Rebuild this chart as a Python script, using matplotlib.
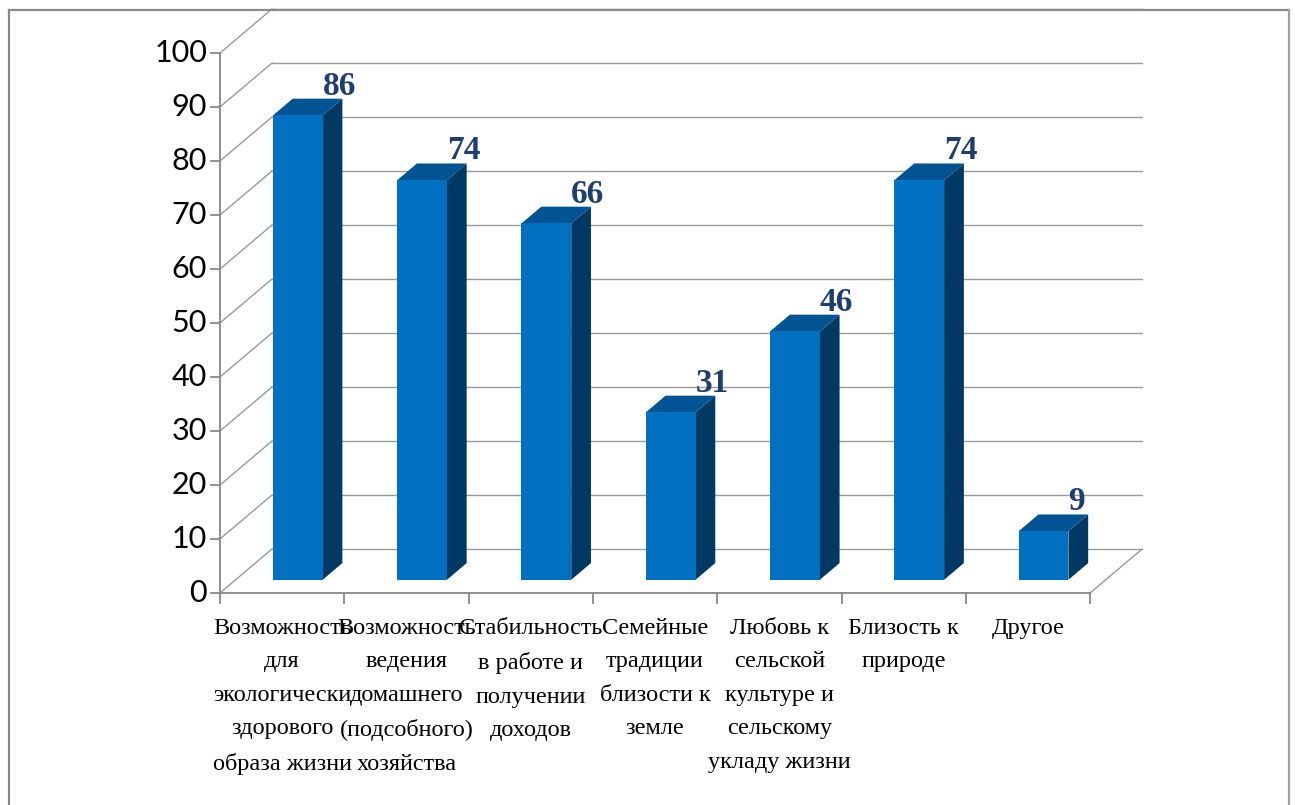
import matplotlib
matplotlib.use("Agg")
import matplotlib.pyplot as plt
from matplotlib.patches import Polygon
from matplotlib.lines import Line2D

# ---- data -------------------------------------------------------------
categories = [
    "Возможность\nдля\nэкологически\nздорового\nобраза жизни",
    "Возможность\nведения\nдомашнего\n(подсобного)\nхозяйства",
    "Стабильность\nв работе и\nполучении\nдоходов",
    "Семейные\nтрадиции\nблизости к\nземле",
    "Любовь к\nсельской\nкультуре и\nсельскому\nукладу жизни",
    "Близость к\nприроде",
    "Другое",
]
values = [86, 74, 66, 31, 46, 74, 9]
y_ticks = list(range(0, 101, 10))

# ---- figure / layout ----------------------------------------------------
W, H, DPI = 1295, 805, 100
fig = plt.figure(figsize=(W / DPI, H / DPI), dpi=DPI)
fig.patch.set_facecolor("white")

x0_px, y0_px = 220, 593      # front-left corner of the floor
slot_px = 124.3              # width of one category slot
unit_px = 5.4                # pixels per value unit
depth_px = (52, 44)          # oblique depth of the plot box

ax = fig.add_axes([0, 0, 1, 1])
ax.set_xlim(-x0_px / slot_px, (W - x0_px) / slot_px)
ax.set_ylim((y0_px - H) / unit_px, y0_px / unit_px)
ax.axis("off")

ddx = depth_px[0] / slot_px
ddy = depth_px[1] / unit_px
n = len(values)
ymax = y_ticks[-1]

grid_c = "#9a9a9a"
axis_c = "#888888"
lw = 1.0

# walls: back gridlines and side-wall diagonals
for v in y_ticks:
    ax.add_line(Line2D([ddx, n + ddx], [v + ddy, v + ddy], color=grid_c, lw=lw, zorder=1))
    ax.add_line(Line2D([0, ddx], [v, v + ddy], color=grid_c, lw=lw, zorder=1))
# floor right edge
ax.add_line(Line2D([n, n + ddx], [0, ddy], color=grid_c, lw=lw, zorder=1))

# front axes
ax.add_line(Line2D([0, n], [0, 0], color=axis_c, lw=1.3, zorder=2))
ax.add_line(Line2D([0, 0], [0, ymax], color=axis_c, lw=1.3, zorder=2))
tick_x = 9 / slot_px
tick_y = 10 / unit_px
for v in y_ticks:
    ax.add_line(Line2D([-tick_x, 0], [v, v], color=axis_c, lw=1.3, zorder=2))
    ax.text(-tick_x - 4 / slot_px, v, str(v), ha="right", va="center",
            fontsize=22, family=["Liberation Sans Narrow", "Lato", "DejaVu Sans"],
            color="black")
for i in range(n + 1):
    ax.add_line(Line2D([i, i], [0, -tick_y], color=axis_c, lw=1.3, zorder=2))

# ---- bars --------------------------------------------------------------
front_c, side_c, top_c = "#0070C0", "#003A64", "#005494"
f1, f2 = 0.30, 0.68          # bar front/back position within the depth
half_w = 0.20
for i, v in enumerate(values):
    xl = i + 0.5 - half_w
    xr = i + 0.5 + half_w
    ax1, ay1 = f1 * ddx, f1 * ddy
    ax2, ay2 = f2 * ddx, f2 * ddy
    side = [(xr + ax1, ay1), (xr + ax2, ay2), (xr + ax2, v + ay2), (xr + ax1, v + ay1)]
    top = [(xl + ax1, v + ay1), (xr + ax1, v + ay1), (xr + ax2, v + ay2), (xl + ax2, v + ay2)]
    front = [(xl + ax1, ay1), (xr + ax1, ay1), (xr + ax1, v + ay1), (xl + ax1, v + ay1)]
    ax.add_patch(Polygon(side, closed=True, facecolor=side_c, edgecolor="none", zorder=3))
    ax.add_patch(Polygon(top, closed=True, facecolor=top_c, edgecolor="none", zorder=3))
    ax.add_patch(Polygon(front, closed=True, facecolor=front_c, edgecolor="none", zorder=4))
    ax.text(xr + ax1, v + ay2 + 4 / unit_px, str(v), ha="left", va="baseline",
            fontsize=24, fontweight="bold", family="Liberation Serif",
            color="#1F3E70", zorder=5)

# ---- category labels ---------------------------------------------------
for i, lab in enumerate(categories):
    ax.text(i + 0.5, -25 / unit_px, lab, ha="center", va="top",
            multialignment="center", fontsize=17.5, family="Liberation Serif",
            color="black", linespacing=1.78)

# ---- outer frame ---------------------------------------------------------
frame_c = "#8a8a8a"
fl, ft, fr = 8.5 / W, 1 - 10 / H, 1289 / W
fig.add_artist(Line2D([fl, fl], [0, ft], transform=fig.transFigure, color=frame_c, lw=1.6))
fig.add_artist(Line2D([fl, fr], [ft, ft], transform=fig.transFigure, color=frame_c, lw=1.6))
fig.add_artist(Line2D([fr, fr], [0, ft], transform=fig.transFigure, color="#a0a0a0", lw=1.6))

fig.savefig("out.png", dpi=DPI, facecolor="white")
